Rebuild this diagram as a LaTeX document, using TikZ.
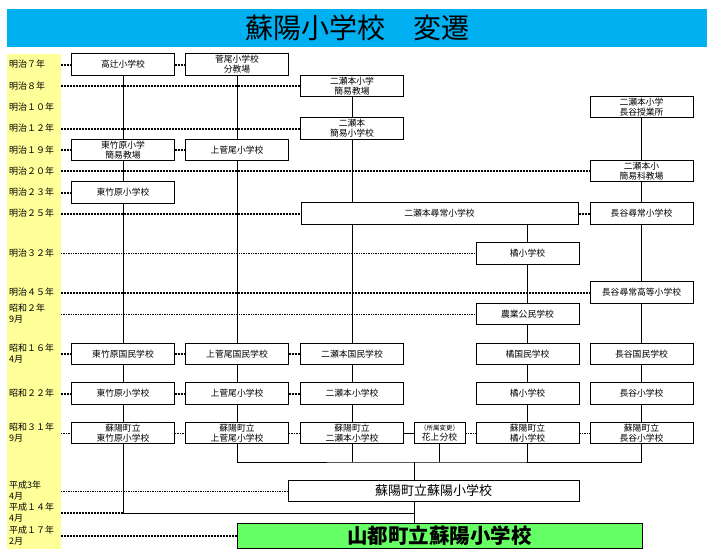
\documentclass[tikz,border=0pt]{standalone}
\usepackage{fontspec}
\setmainfont{Noto Sans CJK JP}
\usepackage{tikz}
\definecolor{titleblue}{HTML}{00B0F0}
\definecolor{yearyellow}{HTML}{FFFF99}
\definecolor{newgreen}{HTML}{66FF66}
\tikzset{
school/.style={draw, line width=1pt, minimum width=103pt, minimum height=21.5pt, inner sep=0pt, align=center, font=\fontsize{8.8}{10}\selectfont}, % every school box
yearlabel/.style={anchor=west, align=left, inner sep=0pt, font=\fontsize{9}{11}\selectfont}, % era labels in the yellow band
bigdot/.style={line width=2pt, dash pattern=on 2pt off 1pt},
thindot/.style={line width=.9pt, dash pattern=on 1.4pt off 1pt},
link/.style={line width=.9pt},
}

\begin{document}
\begin{tikzpicture}[x=1pt, y=-1pt]
        \useasboundingbox (0,0) rectangle (716,557);
        \fill[titleblue] (7,9) rectangle (707,47);
        \node[font=\fontsize{28}{30}\selectfont] (title) at (357,28) {蘇陽小学校　変遷};
        \fill[yearyellow] (7,54) rectangle (61,549);
        \foreach \yy/\txt/\nm in {64.5/明治７年/m7, 86/明治８年/m8, 107/明治１０年/m10, 128.5/明治１２年/m12,
            150/明治１９年/m19, 171/明治２０年/m20, 192.5/明治２３年/m23, 213.5/明治２５年/m25,
            253.5/明治３２年/m32, 292.5/明治４５年/m45, 314/{昭和２年\\9月}/s2, 354/{昭和１６年\\4月}/s16,
            393.5/昭和２２年/s22, 433/{昭和３１年\\9月}/s31, 491/{平成3年\\4月}/h3,
            513/{平成１４年\\4月}/h14, 535.5/{平成１７年\\2月}/h17}
        {
            \node[yearlabel] (l\nm) at (9,\yy) {\txt};
            \coordinate (\nm) at (61,\yy);
        }
        % schools
        \node[school] (a1) at (123,64.5) {高辻小学校};
        \node[school] (b1) at (237,64.5) {菅尾小学校\\分教場};
        \node[school] (c1) at (352,86) {二瀬本小学\\簡易教場};
        \node[school] (e1) at (641.5,107) {二瀬本小学\\長谷授業所};
        \node[school] (c2) at (352,128.5) {二瀬本\\簡易小学校};
        \node[school] (a2) at (123,150) {東竹原小学\\簡易教場};
        \node[school] (b2) at (237,150) {上菅尾小学校};
        \node[school] (e2) at (641.5,171) {二瀬本小\\簡易科教場};
        \node[school] (a3) at (123,192.5) {東竹原小学校};
        \node[school, minimum width=277pt] (c3) at (439.5,213.5) {二瀬本尋常小学校};
        \node[school] (e3) at (641.5,213.5) {長谷尋常小学校};
        \node[school] (d1) at (527.5,253.5) {橘小学校};
        \node[school] (e4) at (641.5,292.5) {長谷尋常高等小学校};
        \node[school] (d2) at (527.5,314) {農業公民学校};
        \node[school] (a4) at (123,354) {東竹原国民学校};
        \node[school] (b3) at (237,354) {上菅尾国民学校};
        \node[school] (c4) at (352,354) {二瀬本国民学校};
        \node[school] (d3) at (527.5,354) {橘国民学校};
        \node[school] (e5) at (641.5,354) {長谷国民学校};
        \node[school] (a5) at (123,393.5) {東竹原小学校};
        \node[school] (b4) at (237,393.5) {上菅尾小学校};
        \node[school] (c5) at (352,393.5) {二瀬本小学校};
        \node[school] (d4) at (527.5,393.5) {橘小学校};
        \node[school] (e6) at (641.5,393.5) {長谷小学校};
        \node[school] (a6) at (123,433) {蘇陽町立\\東竹原小学校};
        \node[school] (b5) at (237,433) {蘇陽町立\\上菅尾小学校};
        \node[school] (c6) at (352,433) {蘇陽町立\\二瀬本小学校};
        \node[school, minimum width=51pt] (f) at (439.5,433) {{\fontsize{6.5}{8}\selectfont （所属変更）}\\花上分校};
        \node[school] (d5) at (527.5,433) {蘇陽町立\\橘小学校};
        \node[school] (e7) at (641.5,433) {蘇陽町立\\長谷小学校};
        \node[school, minimum width=291pt, font=\fontsize{13}{15}\selectfont] (s) at (433.5,491) {蘇陽町立蘇陽小学校};
        \node[school, fill=newgreen, minimum width=405pt, minimum height=25pt, font=\fontsize{20.5}{22}\selectfont\bfseries] (g) at (439.5,535.5) {山都町立蘇陽小学校};
        \coordinate (mj) at (414,462);
        % era lines
        \draw[bigdot] (m7) -- (a1) (a1) -- (b1) (m8) -- (c1) (m12) -- (c2)
        (m19) -- (a2) (a2) -- (b2) (m20) -- (e2) (m23) -- (a3)
        (m25) -- (c3) (c3) -- (e3) (m45) -- (e4)
        (s16) -- (a4) (a4) -- (b3) (b3) -- (c4)
        (s22) -- (a5) (a5) -- (b4) (b4) -- (c5)
        (h14) -- (h14 -| a6) (h17) -- (g)
        ;
        \draw[thindot] (m32) -- (d1) (s2) -- (d2)
        (s31) -- (a6) (a6) -- (b5) (b5) -- (c6) (f) -- (d5) (d5) -- (e7)
        (h3) -- (s)
        ;
        % lines of descent
        \draw[link]
        (a1) -- (a2) -- (a3) -- (a4) -- (a5) -- (a6)
        (b1) -- (b2) -- (b3) -- (b4) -- (b5)
        (c1) -- (c2) (c2.south) -- (c2.south |- c3.north) (c3.south -| c4.north) -- (c4.north) (c4) -- (c5) -- (c6)
        (c3.south -| d1.north) -- (d1.north) (d1) -- (d2) -- (d3) -- (d4) -- (d5)
        (e1) -- (e2) -- (e3) -- (e4) -- (e5) -- (e6) -- (e7)
        (c6) -- (f)
        (b5.south) |- (mj) -| (e7.south)
        (c6.south) -- (c6.south |- mj) (f.south) -- (f.south |- mj) (d5.south) -- (d5.south |- mj)
        (mj) -- (mj |- s.north)
        (a6.south) |- (mj |- h14)
        (mj |- s.south) -- (mj |- g.north)
        ;
    \end{tikzpicture}
\end{document}
